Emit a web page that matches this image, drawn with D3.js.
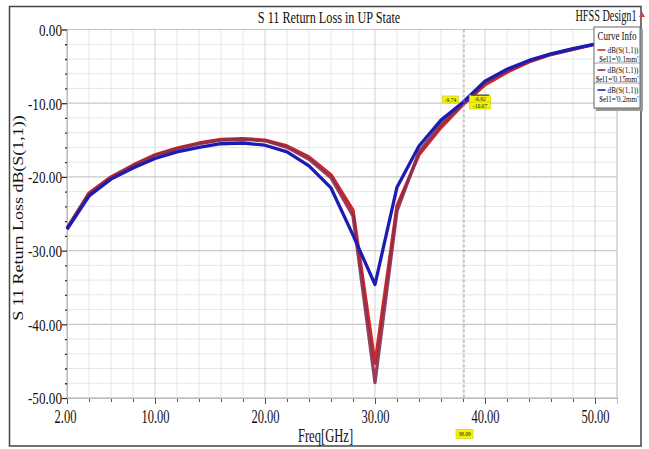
<!DOCTYPE html>
<html>
<head>
<meta charset="utf-8">
<script src="https://cdn.jsdelivr.net/npm/d3@7/dist/d3.min.js"></script>
<style>
  html, body { margin: 0; padding: 0; background: #fff; }
  svg { display: block; }
  text { font-family: "Liberation Serif", "Times New Roman", serif; fill: #111; }
</style>
</head>
<body>
<svg id="chart" width="649" height="449"></svg>
<script>
// Sweep frequencies (GHz)
const freq = [2, 4, 6, 8, 10, 12, 14, 16, 18, 20, 22, 24, 26,
              28, 30, 32, 34, 36, 38, 40, 42, 44, 46, 48, 50, 52];

// dB(S(1,1)) for each gap value
const s11_010 = [-27.0, -22.2, -20.0, -18.4, -17.0, -16.1, -15.4, -14.9, -14.8, -15.0, -15.8, -17.3, -19.7,
                 -24.5, -45.3, -23.9, -17.0, -13.3, -10.2, -7.5, -5.8, -4.4, -3.4, -2.7, -2.0, -1.5];
const s11_015 = [-27.0, -22.3, -20.1, -18.5, -17.1, -16.2, -15.5, -15.0, -14.9, -15.1, -16.0, -17.6, -20.1,
                 -25.3, -47.9, -24.6, -16.6, -12.9, -10.05, -7.2, -5.6, -4.3, -3.35, -2.65, -2.0, -1.5];
const s11_020 = [-27.1, -22.6, -20.3, -18.8, -17.5, -16.6, -16.0, -15.5, -15.4, -15.7, -16.6, -18.5, -21.5,
                 -27.9, -34.6, -21.4, -15.8, -12.3, -9.87, -7.0, -5.4, -4.2, -3.3, -2.6, -2.0, -1.5];

const seriesNames = ["$el1='0.1mm'", "$el1='0.15mm'", "$el1='0.2mm'"];
const traceName = "dB(S(1,1))";

// Axis ticks
const xTicks = [2, 10, 20, 30, 40, 50];
const xMinorTicks = [4, 6, 8, 12, 14, 16, 18, 22, 24, 26, 28, 32, 34, 36, 38, 42, 44, 46, 48, 52];
const yTicks = [0, -10, -20, -30, -40, -50];
const yMinorTicks = [-2, -4, -6, -8, -12, -14, -16, -18, -22, -24, -26, -28,
                     -32, -34, -36, -38, -42, -44, -46, -48];

// Marker readout at 38.09 GHz (0.1mm, 0.15mm, 0.2mm)
const markerFreq = 38.09;
const markerValues = [-10.07, -9.92, -9.74];

const colors = ["#d02828", "#8a2c4c", "#1c1cb4"];

const svg = d3.select("#chart");

// outer frame
svg.append("rect").attr("x", 9.5).attr("y", 6.5).attr("width", 631.5).attr("height", 439.5)
  .attr("fill", "#fff").attr("stroke", "#444").attr("stroke-width", 1.5);

const x = d3.scaleLinear().domain([2, 52]).range([67, 617]);
const y = d3.scaleLinear().domain([-50, 0]).range([398, 29.5]);

// grid
const grid = svg.append("g");
grid.selectAll(".vmin").data(xMinorTicks).join("line")
  .attr("x1", d => x(d)).attr("x2", d => x(d)).attr("y1", y(0)).attr("y2", y(-50))
  .attr("stroke", "#e6e6e6").attr("stroke-width", 1);
grid.selectAll(".hmin").data(yMinorTicks).join("line")
  .attr("x1", x(2)).attr("x2", x(52)).attr("y1", d => y(d)).attr("y2", d => y(d))
  .attr("stroke", "#e6e6e6").attr("stroke-width", 1);
grid.selectAll(".vmaj").data(xTicks).join("line")
  .attr("x1", d => x(d)).attr("x2", d => x(d)).attr("y1", y(0)).attr("y2", y(-50))
  .attr("stroke", "#d2d2d2").attr("stroke-width", 1);
grid.selectAll(".hmaj").data(yTicks).join("line")
  .attr("x1", x(2)).attr("x2", x(52)).attr("y1", d => y(d)).attr("y2", d => y(d))
  .attr("stroke", "#c8c8c8").attr("stroke-width", 1.2);
grid.append("rect").attr("x", x(2)).attr("y", y(0)).attr("width", x(52) - x(2)).attr("height", y(-50) - y(0))
  .attr("fill", "none").attr("stroke", "#c4c4c4").attr("stroke-width", 1);

const fmt = d => d.toFixed(2);

// bottom axis
const xMinorAxis = svg.append("g").attr("transform", `translate(0,${y(-50)})`)
  .call(d3.axisBottom(x).tickValues(xMinorTicks).tickSize(4).tickFormat(""));
const xAxis = svg.append("g").attr("transform", `translate(0,${y(-50)})`)
  .call(d3.axisBottom(x).tickValues(xTicks).tickSize(6).tickFormat(fmt));
[xMinorAxis, xAxis].forEach(g => {
  g.select(".domain").attr("stroke", "#bdbdbd");
  g.selectAll(".tick line").attr("stroke", "#555");
});
xAxis.selectAll(".tick text")
  .attr("y", 0).attr("dy", 0)
  .attr("transform", "translate(0,25) scale(0.66,1)")
  .attr("font-size", 19).attr("fill", "#111")
  .style("font-family", "'Liberation Serif', serif");
xAxis.selectAll(".tick").filter(d => d === 2).select("text")
  .attr("transform", "translate(-2,25) scale(0.66,1)");

// left axis
const yMinorAxis = svg.append("g").attr("transform", `translate(${x(2)},0)`)
  .call(d3.axisLeft(y).tickValues(yMinorTicks).tickSize(2).tickFormat(""));
const yAxis = svg.append("g").attr("transform", `translate(${x(2)},0)`)
  .call(d3.axisLeft(y).tickValues(yTicks).tickSize(5).tickFormat(fmt));
[yMinorAxis, yAxis].forEach(g => {
  g.select(".domain").attr("stroke", "#bdbdbd");
  g.selectAll(".tick line").attr("stroke", "#333").attr("stroke-width", 1.3);
});
yAxis.selectAll(".tick text")
  .attr("x", 0).attr("dy", "0.36em")
  .attr("transform", "translate(-5,0) scale(0.8,1)")
  .attr("font-size", 16.5).attr("fill", "#111")
  .style("font-family", "'Liberation Serif', serif");

// traces
const line = d3.line().x(d => x(d[0])).y(d => y(d[1]));
const series = [s11_010, s11_015, s11_020];
const traces = svg.append("g");
series.forEach((vals, i) => {
  traces.append("path")
    .datum(freq.map((f, j) => [f, vals[j]]))
    .attr("d", line)
    .attr("fill", "none")
    .attr("stroke", colors[i])
    .attr("stroke-width", 3.3)
    .attr("stroke-linejoin", "round")
    .attr("stroke-opacity", i === 1 ? 0.9 : 1);
});

// helper for horizontally condensed text
function label(parent, tx, ty, str, size, sx, anchor, rot) {
  return parent.append("text")
    .attr("transform", `translate(${tx},${ty})${rot ? ` rotate(${rot})` : ""} scale(${sx},1)`)
    .attr("text-anchor", anchor || "start")
    .attr("font-size", size)
    .text(str);
}

// marker
const mx = x(markerFreq);
svg.append("line").attr("x1", mx).attr("x2", mx).attr("y1", y(0)).attr("y2", y(-50))
  .attr("stroke", "#9a9a9a").attr("stroke-width", 1).attr("stroke-dasharray", "3,2");

function tag(cx, cy, w, h, str) {
  const g = svg.append("g");
  g.append("rect").attr("x", cx - w / 2).attr("y", cy - h / 2).attr("width", w).attr("height", h)
    .attr("fill", "#f4f40a").attr("stroke", "#c9c900").attr("stroke-width", 0.6);
  label(g, cx, cy + 2.3, str, 7, 0.8, "middle");
}
tag(mx - 13.5, y(markerValues[2]) - 1.8, 16, 7, fmt(markerValues[2]).replace(/0$/, ""));
tag(mx + 16, y(markerValues[1]) - 4, 21, 7, fmt(markerValues[1]));
tag(mx + 16, y(markerValues[0]) + 1.8, 21, 7, fmt(markerValues[0]));
svg.append("line").attr("x1", mx + 7).attr("x2", mx + 25).attr("y1", y(markerValues[1]) - 7.5)
  .attr("y2", y(markerValues[1]) - 7.5).attr("stroke", "#222").attr("stroke-width", 1);
tag(mx + 0.5, 434, 17, 9, markerFreq.toFixed(2));

// titles
label(svg, 329, 23, "S 11 Return Loss in UP State", 17, 0.72, "middle");
label(svg, 606, 21, "HFSS Design1", 16, 0.64, "middle");
svg.append("path").attr("d", "M639,17 L642,11.5 L645,17 Z").attr("fill", "#c84848");
label(svg, 325.5, 442, "Freq[GHz]", 18, 0.7, "middle");
label(svg, 22.5, 218, "S 11 Return Loss dB(S(1,1))", 15, 1.2, "middle", -90);

// legend
const lg = svg.append("g");
lg.append("rect").attr("x", 596).attr("y", 29).attr("width", 47).attr("height", 82).attr("fill", "#9a9a9a");
lg.append("rect").attr("x", 594).attr("y", 27).attr("width", 46).attr("height", 81)
  .attr("fill", "#fff").attr("stroke", "#666").attr("stroke-width", 1);
label(lg, 617, 40, "Curve Info", 12.5, 0.72, "middle");
const rowTop = [44, 64, 84];
seriesNames.forEach((name, i) => {
  const t = rowTop[i];
  if (i > 0) {
    lg.append("line").attr("x1", 594).attr("x2", 640).attr("y1", t - 1).attr("y2", t - 1)
      .attr("stroke", "#888").attr("stroke-width", 0.8);
  }
  lg.append("line").attr("x1", 597.5).attr("x2", 605.5).attr("y1", t + 6).attr("y2", t + 6)
    .attr("stroke", colors[i]).attr("stroke-width", 1.6);
  label(lg, 638.5, t + 9, traceName, 9, 0.8, "end");
  label(lg, 638.5, t + 17.5, name, 9, 0.8, "end");
});
</script>
</body>
</html>
